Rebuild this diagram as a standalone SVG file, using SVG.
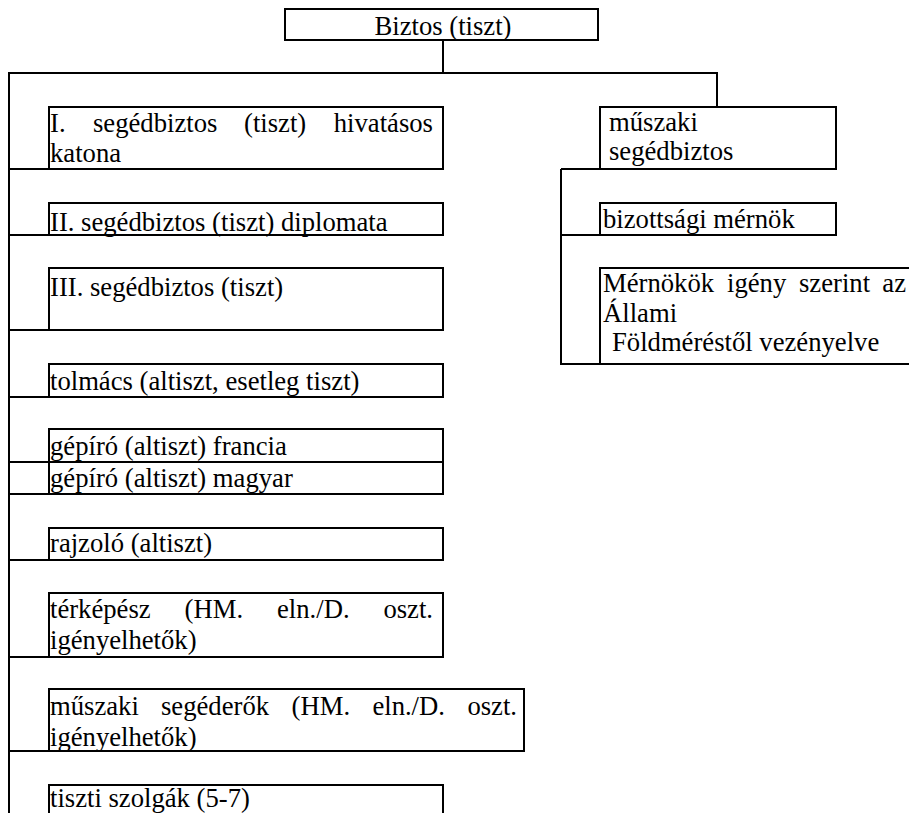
<svg xmlns="http://www.w3.org/2000/svg" width="909" height="813" viewBox="0 0 909 813">
<style>
  .box { fill: #ffffff; stroke: #000000; stroke-width: 2; }
  .ln { fill: none; stroke: #000000; stroke-width: 2; }
  .t { font-family: 'Liberation Serif', 'DejaVu Serif', 'Times New Roman', serif; font-size: 26.67px; fill: #000000; }
  .e { text-anchor: end; }
  .m { text-anchor: middle; }
</style>
<rect width="909" height="813" fill="#ffffff"/>

<g id="n-biztos">
  <rect class="box" x="285" y="9" width="313" height="31"/>
  <text class="t m" x="443" y="35">Biztos (tiszt)</text>
</g>

<g id="n-seged1">
  <rect class="box" x="49" y="107" width="394" height="62"/>
  <text class="t" x="50" y="132">I.</text>
  <text class="t" x="93" y="132">segédbiztos</text>
  <text class="t" x="244" y="132">(tiszt)</text>
  <text class="t e" x="433" y="132">hivatásos</text>
  <text class="t" x="50" y="162">katona</text>
</g>

<g id="n-seged2">
  <rect class="box" x="49" y="203" width="394" height="32"/>
  <text class="t" x="50" y="231">II. segédbiztos (tiszt) diplomata</text>
</g>

<g id="n-seged3">
  <rect class="box" x="49" y="268" width="394" height="62"/>
  <text class="t" x="50" y="296">III. segédbiztos (tiszt)</text>
</g>

<g id="n-tolmacs">
  <rect class="box" x="49" y="364" width="394" height="33"/>
  <text class="t" x="50" y="390">tolmács (altiszt, esetleg tiszt)</text>
</g>

<g id="n-gepiro-fr">
  <rect class="box" x="49" y="429" width="394" height="33"/>
  <text class="t" x="50" y="455">gépíró (altiszt) francia</text>
</g>

<g id="n-gepiro-hu">
  <rect class="box" x="49" y="462" width="394" height="32"/>
  <text class="t" x="50" y="487">gépíró (altiszt) magyar</text>
</g>

<g id="n-rajzolo">
  <rect class="box" x="49" y="528" width="394" height="32"/>
  <text class="t" x="50" y="552">rajzoló (altiszt)</text>
</g>

<g id="n-terkepesz">
  <rect class="box" x="49" y="593" width="394" height="64"/>
  <text class="t" x="50" y="618">térképész</text>
  <text class="t" x="184.6" y="618">(HM.</text>
  <text class="t" x="277" y="618">eln./D.</text>
  <text class="t e" x="433" y="618">oszt.</text>
  <text class="t" x="50" y="649">igényelhetők)</text>
</g>

<g id="n-segederok">
  <rect class="box" x="49" y="689" width="475" height="62"/>
  <text class="t" x="50" y="715">műszaki</text>
  <text class="t" x="161" y="715">segéderők</text>
  <text class="t" x="291.6" y="715">(HM.</text>
  <text class="t" x="372.4" y="715">eln./D.</text>
  <text class="t e" x="517" y="715">oszt.</text>
  <text class="t" x="50" y="746">igényelhetők)</text>
</g>

<g id="n-szolgak">
  <rect class="box" x="49" y="785" width="394" height="40"/>
  <text class="t" x="50" y="807">tiszti szolgák (5-7)</text>
</g>

<g id="n-muszaki">
  <rect class="box" x="600" y="107" width="236" height="62"/>
  <text class="t" x="609" y="131">műszaki</text>
  <text class="t" x="609" y="160">segédbiztos</text>
</g>

<g id="n-bizottsagi">
  <rect class="box" x="600" y="203" width="236" height="32"/>
  <text class="t" x="603" y="228">bizottsági mérnök</text>
</g>

<g id="n-mernokok">
  <rect class="box" x="600" y="268" width="320" height="96"/>
  <text class="t" x="603" y="292">Mérnökök</text>
  <text class="t" x="727" y="292">igény</text>
  <text class="t" x="799" y="292">szerint</text>
  <text class="t e" x="906" y="292">az</text>
  <text class="t" x="603" y="322">Állami</text>
  <text class="t" x="612" y="351">Földméréstől vezényelve</text>
</g>

<g id="connectors">
  <path class="ln" d="M443,40 V73"/>
  <path class="ln" d="M9,813 V73 H717 V107"/>
  <path class="ln" d="M9,169 H49"/>
  <path class="ln" d="M9,235 H49"/>
  <path class="ln" d="M9,330 H49"/>
  <path class="ln" d="M9,397 H49"/>
  <path class="ln" d="M9,462 H49"/>
  <path class="ln" d="M9,494 H49"/>
  <path class="ln" d="M9,560 H49"/>
  <path class="ln" d="M9,657 H49"/>
  <path class="ln" d="M9,751 H49"/>
  <path class="ln" d="M561,169 H600"/>
  <path class="ln" d="M561,169 V364 H600"/>
  <path class="ln" d="M561,235 H600"/>
</g>
</svg>
